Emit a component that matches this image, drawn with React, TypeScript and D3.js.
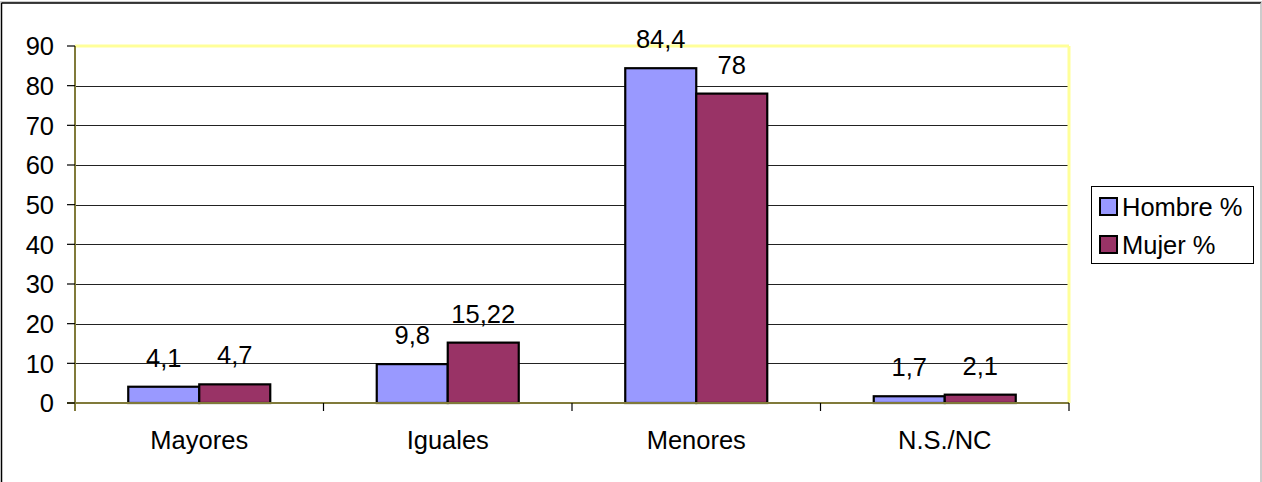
import React from "react";
import * as d3 from "d3";

const categories = ["Mayores", "Iguales", "Menores", "N.S./NC"];
const seriesNames = ["Hombre %", "Mujer %"];
const hombre = [4.1, 9.8, 84.4, 1.7];
const mujer = [4.7, 15.22, 78, 2.1];
const valueLabels = [
  ["4,1", "9,8", "84,4", "1,7"],
  ["4,7", "15,22", "78", "2,1"],
];
const yTicks = [0, 10, 20, 30, 40, 50, 60, 70, 80, 90];
const colors = ["#9999FF", "#993366"];

const W = 1262;
const H = 482;
const plot = { left: 75, right: 1069, top: 46, bottom: 403 };
const font = "'Liberation Sans', Arial, Helvetica, sans-serif";
const fs = 25.5;

export default function App() {
  const series = [hombre, mujer];
  const x0 = d3
    .scaleBand<string>()
    .domain(categories)
    .range([plot.left, plot.right])
    .paddingInner(0)
    .paddingOuter(0);
  const bw = x0.bandwidth();
  // gap between groups is 150% of one bar's width
  const barW = bw / 3.5;
  const x1 = d3
    .scaleBand<string>()
    .domain(seriesNames)
    .range([barW * 0.75, bw - barW * 0.75])
    .padding(0);
  const y = d3.scaleLinear().domain([0, 90]).range([plot.bottom, plot.top]);

  return (
    <div style={{ position: "absolute", left: 0, top: 0 }}>
      <svg width={W} height={H} style={{ display: "block" }}>
        <rect x={0} y={0} width={W} height={H} fill="#fff" />
        {/* chart frame */}
        <line x1={0} y1={2} x2={W} y2={2} stroke="#999" strokeWidth={1} />
        <line x1={1.5} y1={3} x2={W - 1} y2={3} stroke="#000" strokeWidth={1.5} />
        <line x1={1.5} y1={3} x2={1.5} y2={H} stroke="#000" strokeWidth={1.5} />
        <line x1={W - 1} y1={3} x2={W - 1} y2={H} stroke="#bbb" strokeWidth={1.5} />

        {/* gridlines */}
        {yTicks
          .filter((t) => t > 0 && t < 90)
          .map((t) => (
            <line
              key={"g" + t}
              x1={plot.left}
              x2={plot.right}
              y1={Math.round(y(t)) + 0.5}
              y2={Math.round(y(t)) + 0.5}
              stroke="#222"
              strokeWidth={1}
            />
          ))}

        {/* plot area border (top and right) */}
        <line x1={plot.left} x2={plot.right} y1={plot.top} y2={plot.top} stroke="#FFFF99" strokeWidth={3} />
        <line x1={plot.right} x2={plot.right} y1={plot.top} y2={plot.bottom} stroke="#FFFF99" strokeWidth={3} />

        {/* bars */}
        {categories.map((c, i) =>
          series.map((s, j) => {
            const bx = (x0(c) as number) + (x1(seriesNames[j]) as number);
            const by = y(s[i]);
            return (
              <rect
                key={c + j}
                x={bx}
                y={by}
                width={x1.bandwidth()}
                height={y(0) - by}
                fill={colors[j]}
                stroke="#000"
                strokeWidth={2.2}
              />
            );
          })
        )}

        {/* value labels */}
        {categories.map((c, i) =>
          series.map((s, j) => {
            const cx = (x0(c) as number) + (x1(seriesNames[j]) as number) + x1.bandwidth() / 2;
            return (
              <text
                key={"v" + c + j}
                x={cx}
                y={y(s[i]) - 20}
                textAnchor="middle"
                fontFamily={font}
                fontSize={fs}
                fill="#000"
              >
                {valueLabels[j][i]}
              </text>
            );
          })
        )}

        {/* axes */}
        <line x1={plot.left} x2={plot.left} y1={plot.top} y2={plot.bottom + 8} stroke="#807A3A" strokeWidth={2} />
        <line x1={plot.left - 8} x2={plot.right} y1={plot.bottom} y2={plot.bottom} stroke="#807A3A" strokeWidth={2} />
        {yTicks.map((t) => (
          <g key={"t" + t}>
            <line x1={plot.left - 8} x2={plot.left} y1={y(t)} y2={y(t)} stroke="#000" strokeWidth={1.2} />
            <text
              x={54}
              y={y(t)}
              dy="0.36em"
              textAnchor="end"
              fontFamily={font}
              fontSize={fs}
              fill="#000"
            >
              {t}
            </text>
          </g>
        ))}
        {categories.map((c) => (
          <line
            key={"xt" + c}
            x1={(x0(c) as number) + bw}
            x2={(x0(c) as number) + bw}
            y1={plot.bottom}
            y2={plot.bottom + 8}
            stroke="#000"
            strokeWidth={1.2}
          />
        ))}
        {categories.map((c) => (
          <text
            key={"xl" + c}
            x={(x0(c) as number) + bw / 2}
            y={449}
            textAnchor="middle"
            fontFamily={font}
            fontSize={fs}
            fill="#000"
          >
            {c}
          </text>
        ))}

        {/* legend */}
        <rect x={1091.5} y={186.5} width={162} height={77} fill="#fff" stroke="#000" strokeWidth={1} />
        {seriesNames.map((n, j) => (
          <g key={"l" + n}>
            <rect
              x={1100}
              y={198 + j * 38}
              width={17}
              height={17}
              fill={colors[j]}
              stroke="#000"
              strokeWidth={2}
            />
            <text x={1122} y={216 + j * 38} fontFamily={font} fontSize={fs} fill="#000">
              {n}
            </text>
          </g>
        ))}
      </svg>
    </div>
  );
}
